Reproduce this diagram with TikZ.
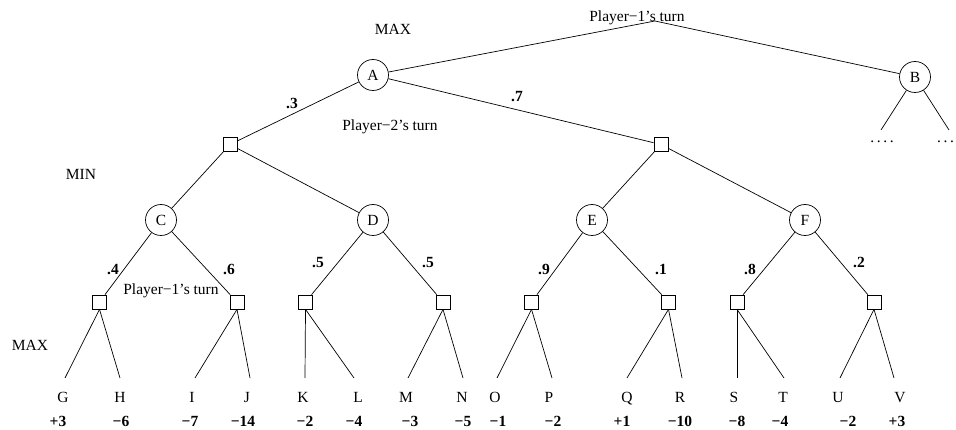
\documentclass[tikz,border=0pt]{standalone}
\usepackage{fontspec}
\setmainfont{Liberation Serif}
\begin{document}
\begin{tikzpicture}[x=1pt,y=-1pt,
  every node/.style={font=\fontsize{15.5}{18}\selectfont},
  chance/.style={draw, circle, minimum size=31pt, inner sep=0pt, line width=0.7pt},
  decbox/.style={draw, rectangle, minimum size=14pt, inner sep=0pt, line width=0.7pt},
  edge/.style={line width=0.7pt},
  lbl/.style={inner sep=0pt, anchor=base},
  prob/.style={inner sep=0pt, anchor=base, font=\fontsize{15.5}{18}\selectfont\bfseries},
  val/.style={inner sep=0pt, anchor=base, font=\fontsize{15.5}{18}\selectfont\bfseries},
]
\useasboundingbox (0,0) rectangle (956,430);

% labels
\node[lbl] (p1top) at (637,22) {Player−1’s turn};
\node[lbl] (maxtop) at (393,35) {MAX};
\node[lbl] (p2) at (390,131) {Player−2’s turn};
\node[lbl] (min) at (81,180) {MIN};
\node[lbl] (p1mid) at (171,295) {Player−1’s turn};
\node[lbl] (maxbot) at (30,350) {MAX};

% top
\coordinate (top) at (655,21);
\node[chance] (A) at (373,75) {A};
\node[chance] (B) at (915,77) {B};
\draw[edge] (A) -- (top) -- (B);

% B children
\coordinate (b1) at (881,130);
\coordinate (b2) at (949,130);
\draw[edge] (B) -- (b1);
\draw[edge] (B) -- (b2);
\node[lbl] (d1) at (882,143) {.\,.\,.\,.};
\node[lbl, anchor=base west] (d2) at (937,143) {.\,.\,.};

% level 1 squares
\node[decbox] (s1) at (230,144.5) {};
\node[decbox] (s2) at (661,144.5) {};
\draw[edge] (A) -- (s1);
\draw[edge] (A) -- (s2);
\node[prob] (p3) at (292,109) {.3};
\node[prob] (p7) at (517,102) {.7};

% level 2 chance nodes
\node[chance] (C) at (161,220) {C};
\node[chance] (D) at (373,220) {D};
\node[chance] (E) at (592,220) {E};
\node[chance] (F) at (805,220) {F};
\draw[edge] (s1) -- (C);
\draw[edge] (s1) -- (D);
\draw[edge] (s2) -- (E);
\draw[edge] (s2) -- (F);

% level 3 squares
\node[decbox] (c1) at (99.5,302) {};
\node[decbox] (c2) at (237,302) {};
\node[decbox] (d1s) at (305.5,302) {};
\node[decbox] (d2s) at (443,302) {};
\node[decbox] (e1) at (531.5,302) {};
\node[decbox] (e2) at (668.5,302) {};
\node[decbox] (f1) at (737,302) {};
\node[decbox] (f2) at (874,302) {};
\draw[edge] (C) -- (c1);
\draw[edge] (C) -- (c2);
\draw[edge] (D) -- (d1s);
\draw[edge] (D) -- (d2s);
\draw[edge] (E) -- (e1);
\draw[edge] (E) -- (e2);
\draw[edge] (F) -- (f1);
\draw[edge] (F) -- (f2);

\node[prob] (q4) at (113,275) {.4};
\node[prob] (q6) at (229,275) {.6};
\node[prob] (q5a) at (318,268) {.5};
\node[prob] (q5b) at (428,268) {.5};
\node[prob] (q9) at (544,275) {.9};
\node[prob] (q1) at (661,275) {.1};
\node[prob] (q8) at (750,275) {.8};
\node[prob] (q2) at (859,268) {.2};

% leaf line ends
\coordinate (lg) at (65,378);
\coordinate (lh) at (120,378);
\coordinate (li) at (195,378);
\coordinate (lj) at (250,378);
\coordinate (lk) at (305,378);
\coordinate (ll) at (354,378);
\coordinate (lm) at (408,378);
\coordinate (ln) at (463,378);
\coordinate (lo) at (497,378);
\coordinate (lp) at (552,378);
\coordinate (lq) at (627,378);
\coordinate (lr) at (682,378);
\coordinate (ls) at (737,378);
\coordinate (lt) at (784,378);
\coordinate (lu) at (840,378);
\coordinate (lv) at (894,378);

\draw[edge] (c1.south) -- (lg);
\draw[edge] (c1.south) -- (lh);
\draw[edge] (c2.south) -- (li);
\draw[edge] (c2.south) -- (lj);
\draw[edge] (d1s.south) -- (lk);
\draw[edge] (d1s.south) -- (ll);
\draw[edge] (d2s.south) -- (lm);
\draw[edge] (d2s.south) -- (ln);
\draw[edge] (e1.south) -- (lo);
\draw[edge] (e1.south) -- (lp);
\draw[edge] (e2.south) -- (lq);
\draw[edge] (e2.south) -- (lr);
\draw[edge] (f1.south) -- (ls);
\draw[edge] (f1.south) -- (lt);
\draw[edge] (f2.south) -- (lu);
\draw[edge] (f2.south) -- (lv);

% leaf letters
\node[lbl] (G) at (63,402) {G};
\node[lbl] (H) at (120,402) {H};
\node[lbl] (I) at (192,402) {I};
\node[lbl] (J) at (247,402) {J};
\node[lbl] (K) at (303,402) {K};
\node[lbl] (L) at (358,402) {L};
\node[lbl] (M) at (406,402) {M};
\node[lbl] (N) at (462,402) {N};
\node[lbl] (O) at (495,402) {O};
\node[lbl] (P) at (549,402) {P};
\node[lbl] (Q) at (627,402) {Q};
\node[lbl] (R) at (680,402) {R};
\node[lbl] (S) at (734,402) {S};
\node[lbl] (T) at (783,402) {T};
\node[lbl] (U) at (838,402) {U};
\node[lbl] (V) at (900,402) {V};

% values
\node[val] (vg) at (58,426) {+3};
\node[val] (vh) at (121,426) {−6};
\node[val] (vi) at (190,426) {−7};
\node[val] (vj) at (243,426) {−14};
\node[val] (vk) at (305,426) {−2};
\node[val] (vl) at (354,426) {−4};
\node[val] (vm) at (410,426) {−3};
\node[val] (vn) at (463,426) {−5};
\node[val] (vo) at (498,426) {−1};
\node[val] (vp) at (553,426) {−2};
\node[val] (vq) at (622,426) {+1};
\node[val] (vr) at (680,426) {−10};
\node[val] (vs) at (737,426) {−8};
\node[val] (vt) at (780,426) {−4};
\node[val] (vu) at (848,426) {−2};
\node[val] (vv) at (897,426) {+3};
\end{tikzpicture}
\end{document}
